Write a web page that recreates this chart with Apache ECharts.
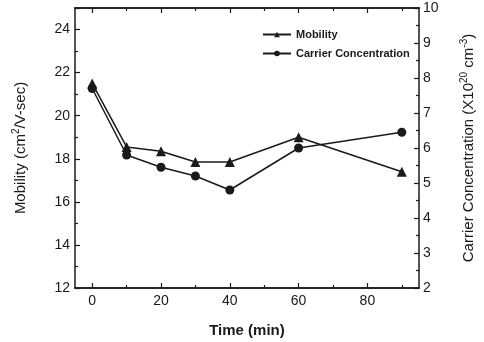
<!DOCTYPE html>
<html>
<head>
<meta charset="utf-8">
<script src="https://cdn.jsdelivr.net/npm/echarts@6/dist/echarts.min.js"></script>
<style>
  html, body { margin: 0; padding: 0; background: #fff; }
  #main { width: 484px; height: 342px; }
</style>
</head>
<body>
<div id="main"></div>
<script>
var time_min = [0, 10, 20, 30, 40, 60, 90]
var mobility = [21.5, 18.55, 18.35, 17.85, 17.85, 19.0, 17.4]
var carrier = [7.7, 5.8, 5.45, 5.2, 4.8, 6.0, 6.45]
var x_major = [0, 20, 40, 60, 80]
var x_minor = [10, 30, 50, 70, 90]

var ink = '#1a1a1a'
var font = 'Liberation Sans, Arial, sans-serif'

function pairs(ys) {
  var out = []
  for (var i = 0; i < time_min.length; i++) {
    out.push([time_min[i], ys[i]])
  }
  return out
}

// x axes: major + minor ticks on both bottom and top (box frame)
function xaxis(pos, ticks, len, withLabels) {
  return {
    type: 'value',
    position: pos,
    min: -5,
    max: 95,
    axisLine: { show: true, onZero: false, lineStyle: { color: ink, width: 1.5 } },
    axisTick: { inside: true, length: len, customValues: ticks, lineStyle: { color: ink, width: 1.2 } },
    axisLabel: withLabels ? {
      customValues: ticks, margin: 6, fontSize: 14, color: ink, fontFamily: font
    } : { show: false },
    splitLine: { show: false }
  }
}

var chart = echarts.init(document.getElementById('main'))
var bottomMajor = xaxis('bottom', x_major, 5, true)
bottomMajor.name = 'Time (min)'
bottomMajor.nameLocation = 'middle'
bottomMajor.nameGap = 35
bottomMajor.nameTextStyle = { fontSize: 15, fontWeight: 'bold', color: ink, fontFamily: font }

chart.setOption({
  animation: false,
  grid: { left: 75, right: 65, top: 8, bottom: 54, outerBoundsMode: 'none' },
  legend: {
    orient: 'vertical',
    left: 257,
    top: 24,
    itemWidth: 28,
    itemHeight: 7,
    itemGap: 8,
    textStyle: { fontSize: 11, fontWeight: 'bold', color: ink, fontFamily: font },
    data: ['Mobility', 'Carrier Concentration']
  },
  xAxis: [
    bottomMajor,
    xaxis('bottom', x_minor, 3, false),
    xaxis('top', x_major, 5, false),
    xaxis('top', x_minor, 3, false)
  ],
  yAxis: [
    {
      type: 'value',
      position: 'left',
      min: 12,
      max: 25,
      interval: 2,
      name: 'Mobility (cm{sup|2}/V-sec)',
      nameLocation: 'middle',
      nameGap: 44,
      nameRotate: 90,
      nameTextStyle: {
        fontSize: 15, color: ink, fontFamily: font, lineHeight: 20,
        rich: { sup: { fontSize: 10, verticalAlign: 'top', lineHeight: 12, color: ink, fontFamily: font } }
      },
      axisLine: { show: true, onZero: false, lineStyle: { color: ink, width: 1.5 } },
      axisTick: { inside: true, length: 5, lineStyle: { color: ink, width: 1.2 } },
      minorTick: { show: true, splitNumber: 2, length: 3, lineStyle: { color: ink, width: 1.2 } },
      axisLabel: { margin: 5, fontSize: 14, color: ink, fontFamily: font, showMaxLabel: false },
      splitLine: { show: false }
    },
    {
      type: 'value',
      position: 'right',
      min: 2,
      max: 10,
      interval: 1,
      name: 'Carrier Concentration (X10{sup|20} cm{sup|-3})',
      nameLocation: 'middle',
      nameGap: 40,
      nameRotate: 90,
      nameTextStyle: {
        fontSize: 15, color: ink, fontFamily: font, lineHeight: 20,
        rich: { sup: { fontSize: 10, verticalAlign: 'top', lineHeight: 12, color: ink, fontFamily: font } }
      },
      axisLine: { show: true, onZero: false, lineStyle: { color: ink, width: 1.5 } },
      axisTick: { inside: true, length: 5, lineStyle: { color: ink, width: 1.2 } },
      minorTick: { show: true, splitNumber: 2, length: 3, lineStyle: { color: ink, width: 1.2 } },
      axisLabel: { margin: 4, fontSize: 14, color: ink, fontFamily: font },
      splitLine: { show: false }
    }
  ],
  series: [
    {
      name: 'Mobility',
      type: 'line',
      xAxisIndex: 0,
      yAxisIndex: 0,
      data: pairs(mobility),
      symbol: 'triangle',
      symbolSize: 10,
      itemStyle: { color: ink },
      lineStyle: { color: ink, width: 1.5 }
    },
    {
      name: 'Carrier Concentration',
      type: 'line',
      xAxisIndex: 0,
      yAxisIndex: 1,
      data: pairs(carrier),
      symbol: 'circle',
      symbolSize: 9,
      itemStyle: { color: ink },
      lineStyle: { color: ink, width: 1.5 }
    }
  ]
})
</script>
</body>
</html>
